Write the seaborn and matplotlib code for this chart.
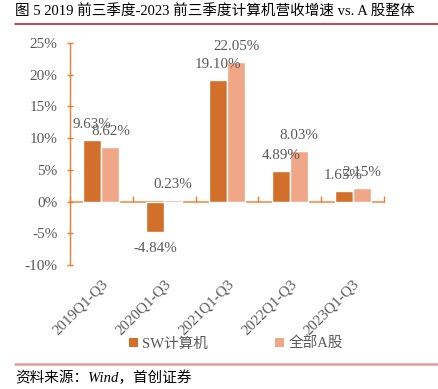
import matplotlib
matplotlib.use("Agg")
import matplotlib.pyplot as plt
import seaborn as sns
import pandas as pd
from matplotlib.lines import Line2D
from matplotlib.patches import Patch
from matplotlib.font_manager import FontProperties

categories = ["2019Q1-Q3", "2020Q1-Q3", "2021Q1-Q3", "2022Q1-Q3", "2023Q1-Q3"]
sw_computer = [9.63, -4.84, 19.10, 4.89, 1.65]
all_a_share = [8.62, 0.23, 22.05, 8.03, 2.15]
series_names = ["SW计算机", "全部A股"]
y_ticks = [-10, -5, 0, 5, 10, 15, 20, 25]

title = "图 5 2019 前三季度-2023 前三季度计算机营收增速 vs. A 股整体"
source = "资料来源：Wind，首创证券"

dark = "#D26F2B"
light = "#F0A787"
axis_col = "#ED7D31"
gray = "#595959"
FAM = ["Liberation Serif", "Noto Sans CJK SC"]

df = pd.DataFrame({
    "cat": categories * 2,
    "val": sw_computer + all_a_share,
    "series": [series_names[0]] * len(categories) + [series_names[1]] * len(categories),
})

sns.set_style("white")
plt.rcParams["font.family"] = FAM

fig = plt.figure(figsize=(4.39, 3.89), dpi=100)
ax = fig.add_axes([70 / 439, 1 - 265 / 389, (384 - 70) / 439, (265 - 43) / 389])

sns.barplot(data=df, x="cat", y="val", hue="series", order=categories,
            hue_order=series_names, palette=[dark, light], width=0.575,
            ax=ax, legend=False, saturation=1)

for cont in ax.containers:
    labels = [f"{v:.2f}%" for v in cont.datavalues]
    for bar, lab, v in zip(cont, labels, cont.datavalues):
        x = bar.get_x() + bar.get_width() / 2
        if v >= 0:
            ax.annotate(lab, (x, v), xytext=(0, 6.5), textcoords="offset points",
                        ha="center", va="bottom", fontsize=10.8, color=gray, family=FAM)
        else:
            ax.annotate(lab, (x, v), xytext=(0, -7), textcoords="offset points",
                        ha="center", va="top", fontsize=10.8, color=gray, family=FAM)

ax.set_ylim(-10, 25)
ax.set_xlim(-0.5, len(categories) - 0.5)
ax.set_yticks(y_ticks)
ax.set_yticklabels([f"{t}%" for t in y_ticks], color=gray, fontsize=11, family=FAM)
ax.set_xlabel("")
ax.set_ylabel("")

for s in ["top", "right"]:
    ax.spines[s].set_visible(False)
ax.spines["left"].set_color(axis_col)
ax.spines["left"].set_linewidth(1.0)
ax.spines["bottom"].set_position(("data", 0))
ax.spines["bottom"].set_color("#F2A470")
ax.spines["bottom"].set_linewidth(1.5)
ax.spines["bottom"].set_zorder(0.5)

ax.tick_params(axis="y", left=True, direction="inout", length=4, color=axis_col, width=1, pad=7)
ax.set_xticks([i - 0.5 for i in range(len(categories) + 1)])
ax.set_xticklabels([])
ax.tick_params(axis="x", bottom=True, direction="in", length=4, color=axis_col, width=1)

sec = ax.secondary_xaxis(0)
sec.set_xticks(range(len(categories)))
sec.set_xticklabels(categories, rotation=45, ha="right", va="top", rotation_mode="anchor",
                    color=gray, fontsize=10.8, family=FAM)
sec.tick_params(length=0, pad=9)
sec.spines["bottom"].set_visible(False)

handles = [Patch(facecolor=dark, edgecolor="none"), Patch(facecolor=light, edgecolor="none")]
leg = fig.legend(handles, series_names, loc="center", bbox_to_anchor=(236 / 439, 1 - 344 / 389),
                 ncol=2, frameon=False, handlelength=0.6, handleheight=0.6,
                 handletextpad=0.3, columnspacing=4.6,
                 prop=FontProperties(family=FAM, size=10.5))
for t in leg.get_texts():
    t.set_color(gray)

fig.text(15 / 439, 1 - 12 / 389, title, ha="left", va="center", fontsize=10.5, color="black", family=FAM)
fig.add_artist(Line2D([15 / 439, 1], [1 - 24 / 389, 1 - 24 / 389], color="#C0282D", lw=1.2))
fig.add_artist(Line2D([15 / 439, 1], [1 - 364 / 389, 1 - 364 / 389], color="#E39A9A", lw=1.8))
fig.text(15 / 439, 1 - 378 / 389, source, ha="left", va="center", fontsize=10.5, color="black",
         style="italic", family=FAM)

fig.savefig("out.png", dpi=100)
